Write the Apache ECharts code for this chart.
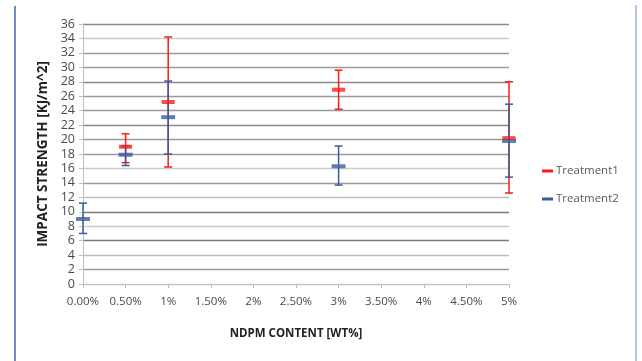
<!DOCTYPE html>
<html>
<head>
<meta charset="utf-8">
<script src="https://cdn.jsdelivr.net/npm/echarts@6/dist/echarts.min.js"></script>
<style>
html,body{margin:0;padding:0;background:#fff;}
#c{width:642px;height:361px;}
</style>
</head>
<body>
<div id="c"></div>
<script>
// ---- data ----
var xTickLabels = ["0.00%","0.50%","1%","1.50%","2%","2.50%","3%","3.50%","4%","4.50%","5%"];
var t1X     = [0.5, 1, 3, 5];
var t1Mean  = [19.0, 25.2, 26.9, 20.2];
var t1Upper = [20.8, 34.2, 29.6, 28.0];
var t1Lower = [16.8, 16.2, 24.2, 12.6];
var t2X     = [0, 0.5, 1, 3, 5];
var t2Mean  = [9.0, 17.9, 23.1, 16.3, 19.8];
var t2Upper = [11.2, 19.1, 28.1, 19.1, 24.9];
var t2Lower = [7.0, 16.4, 18.0, 13.7, 14.8];

var RED = '#ff1a1a', BLUE = '#3b5c9c';

function pts(xs, ys){ return xs.map(function(x,i){ return [x, ys[i]]; }); }
function errData(xs, lo, hi){ return xs.map(function(x,i){ return [x, lo[i], hi[i]]; }); }
function errRender(color){
  return function(params, api){
    var x = api.value(0);
    var p1 = api.coord([x, api.value(1)]);
    var p2 = api.coord([x, api.value(2)]);
    var cap = 4;
    var st = {stroke: color, lineWidth: 1.5};
    return {type:'group', children:[
      {type:'line', shape:{x1:p1[0], y1:p1[1], x2:p2[0], y2:p2[1]}, style:st},
      {type:'line', shape:{x1:p1[0]-cap, y1:p1[1], x2:p1[0]+cap, y2:p1[1]}, style:st},
      {type:'line', shape:{x1:p2[0]-cap, y1:p2[1], x2:p2[0]+cap, y2:p2[1]}, style:st}
    ]};
  };
}

var gridColors = ['#cfcfcf','#9a9a9a','#bdbdbd','#7a7a7a','#cccccc','#7a7a7a','#bdbdbd','#9a9a9a','#cccccc','#9a9a9a',
                  '#9a9a9a','#8a8a8a','#9a9a9a','#9a9a9a','#8a8a8a','#9a9a9a','#9a9a9a','#cccccc','#8a8a8a'];

var chart = echarts.init(document.getElementById('c'), null, {renderer:'canvas'});
chart.setOption({
  animation:false,
  backgroundColor:'#fff',
  textStyle:{fontFamily:'Open Sans'},
  grid:{left:83, right:133, top:24, bottom:77},
  legend:{
    orient:'vertical', left:537, top:160, itemGap:16,
    itemWidth:11, itemHeight:3, icon:'rect',
    textStyle:{fontFamily:'Open Sans', fontSize:11.5, color:'#595959', padding:[0,0,0,-2]},
    data:[{name:'Treatment1', itemStyle:{color:RED}},{name:'Treatment2', itemStyle:{color:BLUE}}]
  },
  xAxis:{
    type:'value', min:0, max:5, interval:0.5,
    name:'NDPM CONTENT [WT%]', nameLocation:'middle', nameGap:44,
    nameTextStyle:{fontFamily:'Open Sans', fontWeight:'bold', fontSize:11.5, color:'#222'},
    axisLine:{show:true, lineStyle:{color:'#bfbfbf', width:1}},
    axisTick:{show:true, length:4, lineStyle:{color:'#bfbfbf'}},
    axisLabel:{fontSize:11.5, color:'#4a4a4a', margin:12,
      formatter:function(v){ return xTickLabels[Math.round(v/0.5)]; }},
    splitLine:{show:false}
  },
  yAxis:{
    type:'value', min:0, max:36, interval:2,
    name:'IMPACT STRENGTH [KJ/m^2]', nameLocation:'middle', nameGap:33, nameRotate:90,
    nameTextStyle:{fontFamily:'Open Sans', fontWeight:'bold', fontSize:13.5, color:'#222'},
    axisLine:{show:true, lineStyle:{color:'#bfbfbf', width:1}},
    axisTick:{show:true, length:4, lineStyle:{color:'#bfbfbf'}},
    axisLabel:{fontSize:12.5, color:'#4a4a4a', margin:8},
    splitLine:{show:true, lineStyle:{color:gridColors, width:1.3}}
  },
  series:[
    {name:'Treatment1', type:'custom', renderItem:errRender(RED), data:errData(t1X,t1Lower,t1Upper), clip:false, z:2,
      itemStyle:{color:RED}, encode:{x:0, y:[1,2]}},
    {name:'Treatment2', type:'custom', renderItem:errRender(BLUE), data:errData(t2X,t2Lower,t2Upper), clip:false, z:3,
      itemStyle:{color:BLUE}, encode:{x:0, y:[1,2]}},
    {name:'Treatment1', type:'scatter', data:pts(t1X,t1Mean), symbol:'rect', symbolSize:[13,4],
      itemStyle:{color:RED}, z:4, clip:false},
    {name:'Treatment2', type:'scatter', data:pts(t2X,t2Mean), symbol:'rect', symbolSize:[14,4],
      itemStyle:{color:BLUE}, z:5, clip:false}
  ],
  graphic:[
    {type:'line', shape:{x1:15, y1:6, x2:15, y2:361}, style:{stroke:'#6f8fbf', lineWidth:2}, silent:true},
    {type:'line', shape:{x1:636, y1:5, x2:636, y2:361}, style:{stroke:'#b3c4dc', lineWidth:2}, silent:true}
  ]
});
</script>
</body>
</html>
